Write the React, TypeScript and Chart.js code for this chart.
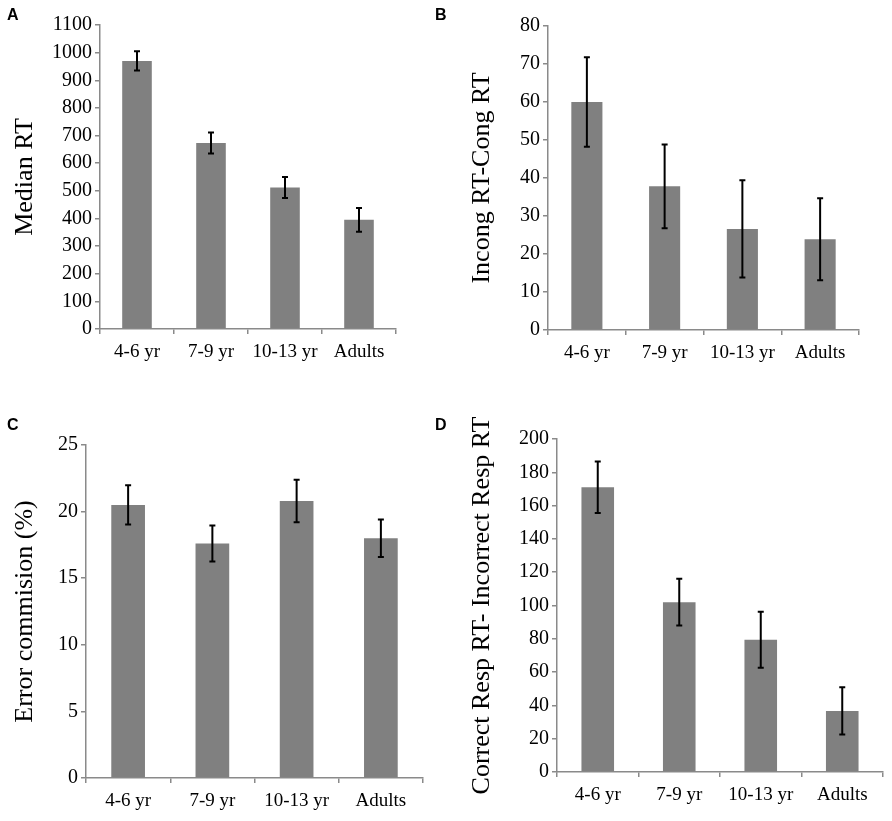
import React, { useRef, useEffect } from "react";
import { Chart, registerables } from "chart.js";

Chart.register(...registerables);

// age groups shared by all four panels
const groups = ["4-6 yr", "7-9 yr", "10-13 yr", "Adults"];

// A: median RT
const medianRt = [970, 673, 512, 395];
const medianRtErr = [35, 38, 38, 43];

// B: incongruent - congruent RT
const congDiff = [60, 37.8, 26.6, 23.9];
const congDiffErr = [11.8, 11, 12.8, 10.8];

// C: commission errors (%)
const errCommission = [20.5, 17.6, 20.8, 18.0];
const errCommissionErr = [1.47, 1.35, 1.6, 1.4];

// D: correct - incorrect response RT
const respDiff = [171, 102, 79.4, 36.7];
const respDiffErr = [15.5, 14, 16.8, 14.2];

const SERIF = "'Liberation Serif', 'Times New Roman', serif";
const AXIS = "#8a8a8a";

const errorBars = {
  id: "errorBars",
  afterDatasetsDraw(chart: any, _args: any, opts: any) {
    const errs: number[] = opts.errs || [];
    const meta = chart.getDatasetMeta(0);
    const vals = chart.data.datasets[0].data as number[];
    const y = chart.scales.y;
    const ctx = chart.ctx;
    ctx.save();
    ctx.strokeStyle = "#000";
    ctx.lineWidth = 2;
    meta.data.forEach((bar: any, i: number) => {
      const top = y.getPixelForValue(vals[i] + errs[i]);
      const bot = y.getPixelForValue(vals[i] - errs[i]);
      ctx.beginPath();
      ctx.moveTo(bar.x, top);
      ctx.lineTo(bar.x, bot);
      ctx.moveTo(bar.x - 3, top);
      ctx.lineTo(bar.x + 3, top);
      ctx.moveTo(bar.x - 3, bot);
      ctx.lineTo(bar.x + 3, bot);
      ctx.stroke();
    });
    ctx.restore();
  },
};

interface PanelProps {
  left: number;
  top: number;
  width: number;
  height: number;
  area: { left: number; right: number; top: number; bottom: number };
  values: number[];
  errs: number[];
  max: number;
  step: number;
  title: string;
  titlePad: number;
}

function Panel(p: PanelProps) {
  const ref = useRef<HTMLCanvasElement | null>(null);

  useEffect(() => {
    if (!ref.current) return;
    const chart = new Chart(ref.current, {
      type: "bar",
      data: {
        labels: groups,
        datasets: [
          {
            data: p.values,
            backgroundColor: "#808080",
            borderWidth: 0,
            barPercentage: 0.4,
            categoryPercentage: 1,
          },
        ],
      },
      options: {
        responsive: false,
        animation: false,
        layout: {
          padding: { left: 0, top: p.area.top, right: p.width - p.area.right, bottom: 0 },
        },
        plugins: {
          legend: { display: false },
          tooltip: { enabled: false },
          errorBars: { errs: p.errs },
        } as any,
        scales: {
          x: {
            afterFit: (s: any) => {
              s.height = p.height - p.area.bottom;
            },
            border: { color: AXIS, width: 1.5 },
            grid: { drawOnChartArea: false, color: AXIS, tickLength: 5, lineWidth: 1.5 },
            ticks: { color: "#000", padding: 7, font: { family: SERIF, size: 19 } },
          },
          y: {
            min: 0,
            max: p.max,
            afterFit: (s: any) => {
              s.width = p.area.left;
            },
            border: { color: AXIS, width: 1.5 },
            grid: { drawOnChartArea: false, color: AXIS, tickLength: 5, lineWidth: 1.5 },
            ticks: {
              stepSize: p.step,
              color: "#000",
              padding: 3,
              font: { family: SERIF, size: 20 },
              callback: (v: any) => String(v),
            },
            title: {
              display: true,
              text: p.title,
              color: "#000",
              padding: { top: p.titlePad, bottom: 0 },
              font: { family: SERIF, size: 26 },
            },
          },
        },
      },
      plugins: [errorBars],
    });
    return () => chart.destroy();
  }, []);

  return (
    <canvas
      ref={ref}
      width={p.width}
      height={p.height}
      style={{ position: "absolute", left: p.left, top: p.top, width: p.width, height: p.height }}
    />
  );
}

const letterStyle: React.CSSProperties = {
  position: "absolute",
  fontFamily: "'Liberation Sans', Arial, sans-serif",
  fontWeight: "bold",
  fontSize: 16,
  lineHeight: "16px",
};

export default function App() {
  return (
    <div style={{ position: "absolute", left: 0, top: 0, width: 892, height: 821, background: "#fff" }}>
      <Panel
        left={0} top={0} width={446} height={405}
        area={{ left: 100, right: 396, top: 25, bottom: 329 }}
        values={medianRt} errs={medianRtErr} max={1100} step={100}
        title="Median RT" titlePad={10}
      />
      <Panel
        left={446} top={0} width={446} height={405}
        area={{ left: 102, right: 413, top: 26, bottom: 330 }}
        values={congDiff} errs={congDiffErr} max={80} step={10}
        title="Incong RT-Cong RT" titlePad={21}
      />
      <Panel
        left={0} top={405} width={446} height={416}
        area={{ left: 86, right: 423, top: 40, bottom: 373 }}
        values={errCommission} errs={errCommissionErr} max={25} step={5}
        title="Error commision (%)" titlePad={10}
      />
      <Panel
        left={446} top={405} width={446} height={416}
        area={{ left: 111, right: 437, top: 34, bottom: 367 }}
        values={respDiff} errs={respDiffErr} max={200} step={20}
        title="Correct Resp RT- Incorrect Resp RT" titlePad={21}
      />
      <div style={{ ...letterStyle, left: 7, top: 7 }}>A</div>
      <div style={{ ...letterStyle, left: 435, top: 7 }}>B</div>
      <div style={{ ...letterStyle, left: 7, top: 417 }}>C</div>
      <div style={{ ...letterStyle, left: 435, top: 417 }}>D</div>
    </div>
  );
}
